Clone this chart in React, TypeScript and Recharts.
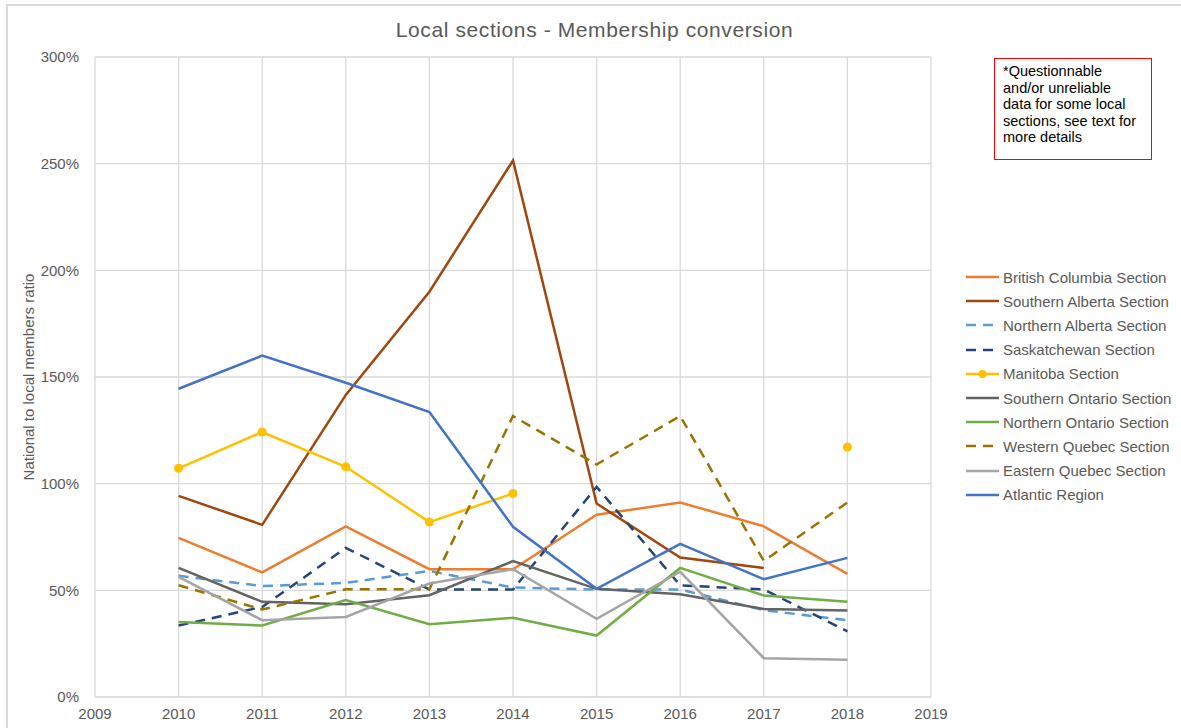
import React from 'react';
import { LineChart, Line, XAxis, YAxis, CartesianGrid, Label } from 'recharts';

const years = [2010, 2011, 2012, 2013, 2014, 2015, 2016, 2017, 2018];

// ratios in %, null = no data
const britishColumbia = [74.6, 58.4, 80, 59.9, 59.9, 85.4, 91.2, 80, 57.7];
const southernAlberta = [94.3, 80.7, 141.6, 190, 251.5, 90.7, 65.4, 60.5, null];
const northernAlberta = [56.8, 52, 53.5, 59.1, 51.3, 50.4, 50.4, 40.7, 36];
const saskatchewan = [33.5, 42.2, 69.9, 50.4, 50.4, 98.5, 52.3, 50.4, 30.8];
const manitoba = [107.2, 124.2, 107.9, 82, 95.4, null, null, null, 117.2];
const southernOntario = [60.5, 44.6, 43.5, 47.7, 63.7, 50.7, 48.2, 41.3, 40.5];
const northernOntario = [35.2, 33.5, 45.4, 34.1, 37.1, 28.8, 60.5, 47.6, 44.6];
const westernQuebec = [52.4, 41, 50.5, 50.5, 131.7, 109, 131.7, 63.8, 91.2];
const easternQuebec = [56.3, 36, 37.5, 53.2, 59.9, 36.6, 58.7, 18.2, 17.5];
const atlantic = [144.5, 160, 147.3, 133.6, 79.8, 50.7, 71.8, 55.2, 65.2];

const xTicks = [2009, 2010, 2011, 2012, 2013, 2014, 2015, 2016, 2017, 2018, 2019];
const yTicks = [0, 50, 100, 150, 200, 250, 300];

const series = [
  { key: 'bc', name: 'British Columbia Section', values: britishColumbia, color: '#ED7D31', dash: undefined, dot: false },
  { key: 'sab', name: 'Southern Alberta Section', values: southernAlberta, color: '#9E480E', dash: undefined, dot: false },
  { key: 'nab', name: 'Northern Alberta Section', values: northernAlberta, color: '#5B9BD5', dash: '10 7', dot: false },
  { key: 'sk', name: 'Saskatchewan Section', values: saskatchewan, color: '#264478', dash: '10 7', dot: false },
  { key: 'mb', name: 'Manitoba Section', values: manitoba, color: '#FFC000', dash: undefined, dot: true },
  { key: 'son', name: 'Southern Ontario Section', values: southernOntario, color: '#636363', dash: undefined, dot: false },
  { key: 'non', name: 'Northern Ontario Section', values: northernOntario, color: '#70AD47', dash: undefined, dot: false },
  { key: 'wq', name: 'Western Quebec Section', values: westernQuebec, color: '#997300', dash: '10 7', dot: false },
  { key: 'eq', name: 'Eastern Quebec Section', values: easternQuebec, color: '#A5A5A5', dash: undefined, dot: false },
  { key: 'atl', name: 'Atlantic Region', values: atlantic, color: '#4472C4', dash: undefined, dot: false },
];

const data = years.map((year, i) => {
  const row: Record<string, number | null> = { year };
  series.forEach((s) => { row[s.key] = s.values[i]; });
  return row;
});

const font = '"Liberation Sans", Arial, sans-serif';
const textColor = '#595959';

const LegendBox: React.FC = () => (
  <div style={{ position: 'absolute', left: 966, top: 265, fontFamily: font, fontSize: 15, color: textColor }}>
    {series.map((s) => (
      <div key={s.key} style={{ display: 'flex', alignItems: 'center', height: 24.2, whiteSpace: 'nowrap' }}>
        <svg width={34} height={10} style={{ marginRight: 3 }}>
          <line x1={0} y1={5} x2={33} y2={5} stroke={s.color} strokeWidth={2.5} strokeDasharray={s.dash ? '10 7' : undefined} />
          {s.dot && <circle cx={16.5} cy={5} r={4} fill={s.color} />}
        </svg>
        <span>{s.name}</span>
      </div>
    ))}
  </div>
);

export default function App() {
  return (
    <div style={{ position: 'absolute', left: 0, top: 0, width: 1181, height: 728, background: '#fff', overflow: 'hidden', fontFamily: font }}>
      <div style={{ position: 'absolute', left: 6, top: 4, width: 1190, height: 740, border: '2px solid #d9d9d9', boxSizing: 'border-box' }} />
      <div style={{ position: 'absolute', left: 0, top: 18, width: 1189, textAlign: 'center', fontSize: 21, letterSpacing: 0.6, color: textColor, whiteSpace: 'nowrap' }}>
        Local sections - Membership conversion
      </div>
      <div style={{ position: 'absolute', left: 0, top: 0 }}>
        <LineChart width={1181} height={728} data={data} margin={{ top: 57, right: 250, bottom: 0, left: 35 }}>
          <CartesianGrid stroke="#d9d9d9" strokeWidth={1.3} />
          <XAxis
            dataKey="year"
            type="number"
            domain={[2009, 2019]}
            ticks={xTicks}
            interval={0}
            height={31}
            stroke="#d9d9d9"
            tickLine={false}
            tick={{ fill: textColor, fontSize: 15, fontFamily: font }}
            tickMargin={5}
          />
          <YAxis
            type="number"
            domain={[0, 300]}
            ticks={yTicks}
            width={60}
            axisLine={false}
            tickLine={false}
            tickFormatter={(v: number) => `${v}%`}
            tick={{ fill: textColor, fontSize: 15, fontFamily: font }}
            tickMargin={10}
          >
            <Label
              value="National to local members ratio"
              angle={-90}
              position="insideLeft"
              offset={-6}
              style={{ fill: textColor, fontSize: 15, fontFamily: font, textAnchor: 'middle' }}
            />
          </YAxis>
          {series.map((s) => (
            <Line
              key={s.key}
              type="linear"
              dataKey={s.key}
              name={s.name}
              stroke={s.color}
              strokeWidth={2.5}
              strokeDasharray={s.dash}
              dot={s.dot ? { r: 4.5, fill: s.color, stroke: s.color, strokeWidth: 0 } : false}
              activeDot={false}
              connectNulls={false}
              isAnimationActive={false}
            />
          ))}
        </LineChart>
      </div>
      <LegendBox />
      <div
        style={{
          position: 'absolute', left: 994, top: 58, width: 158, height: 102, boxSizing: 'border-box',
          border: '1px solid #FF0000', padding: '4px 4px 0 8px', fontSize: 14.5, lineHeight: '16.5px', color: '#000',
          whiteSpace: 'nowrap',
        }}
      >
        *Questionnable<br />and/or unreliable<br />data for some local<br />sections, see text for<br />more details
      </div>
    </div>
  );
}
